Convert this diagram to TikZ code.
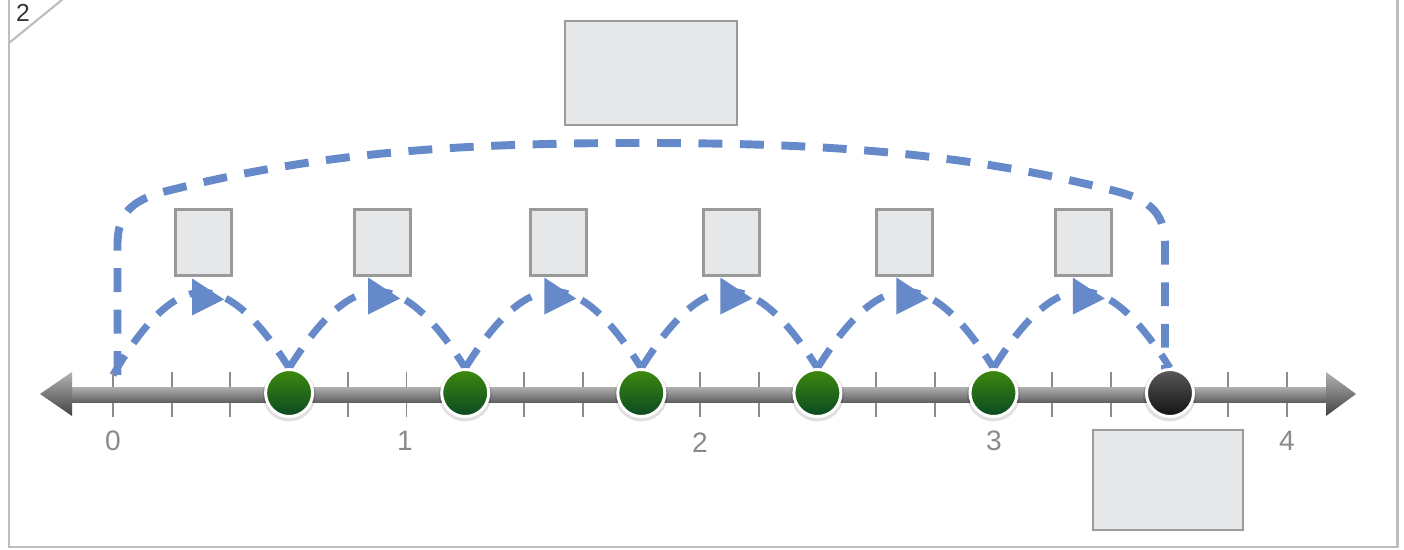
\documentclass[tikz,border=0pt]{standalone}
\usepackage{fontspec}
\setmainfont{Liberation Sans}
\usetikzlibrary{calc,backgrounds}
\definecolor{jump}{HTML}{6589C9}
\definecolor{boxfill}{HTML}{E6E7E9}
\definecolor{boxline}{HTML}{9A9A9A}
\definecolor{framec}{HTML}{BDBDBD}
\definecolor{tickc}{HTML}{8C8C8C}
\definecolor{labc}{HTML}{8A8A8A}
\definecolor{gtop}{HTML}{3E8A0E}
\definecolor{gbot}{HTML}{0A4822}
\definecolor{ktop}{HTML}{5A5A5A}
\definecolor{kbot}{HTML}{111111}
\tikzset{
  answerbox/.style={rectangle, draw=boxline, fill=boxfill, line width=1.4pt, inner sep=0pt},
  jumparc/.style={draw=jump, line width=4pt, dash pattern=on 13pt off 8.5pt},
  bigarc/.style={draw=jump, line width=4.5pt, dash pattern=on 13.6pt off 10pt},
  dotbase/.style={circle, inner sep=0pt, minimum size=0.94cm, draw=white, line width=1.7pt},
  greendot/.style={dotbase, top color=gtop, bottom color=gbot},
  blackdot/.style={dotbase, top color=ktop, bottom color=kbot},
  numlab/.style={text=labc, font=\fontsize{16}{16}\selectfont},
  tickmark/.style={draw=tickc, line width=1.1pt},
  dotshadow/.style={fill=black, opacity=0.12},
}
\begin{document}
\begin{tikzpicture}[x=0.02cm,y=-0.02cm]
\useasboundingbox (0,0) rectangle (1404,550);
% frame
\draw[framec, line width=1.7pt] (9,-5) rectangle (1397,547);
\draw[framec, line width=1.2pt] (9,43) -- (63,-1);
\node[text=black!80, font=\fontsize{14}{14}\selectfont] (pg) at (23,13) {2};
% answer boxes
\node[answerbox, minimum width=3.44cm, minimum height=2.08cm] (top) at (651,73) {};
\node[answerbox, minimum width=3cm, minimum height=2cm] (bottom) at (1168,480) {};
\foreach \x [count=\i] in {203.5,382.5,558.5,731.5,904.5,1083.5}
  \node[answerbox, minimum width=1.12cm, minimum height=1.32cm] (b\i) at (\x,242.5) {};
% ticks
\foreach \k in {0,...,20}
  \draw[tickmark] ({113+58.7*\k},372) -- ({113+58.7*\k},417);
% shaft and arrow heads
\shade[top color=black!33, bottom color=black!64] (66,388) rectangle (1332,403);
\shade[top color=black!30, bottom color=black!74] (40,394) -- (72,372) -- (72,416) -- cycle;
\shade[top color=black!30, bottom color=black!74] (1356,394) -- (1326,372) -- (1326,416) -- cycle;
% labels
\node[numlab] (l0) at (113,441) {0};
\node[numlab] (l1) at (405,441) {1};
\node[numlab] (l2) at (700,443) {2};
\node[numlab] (l3) at (994,441) {3};
\node[numlab] (l4) at (1287,441) {4};
% dots
\foreach \i in {1,...,6}
  \fill[dotshadow] ({113+176.1*\i},395) circle (26.5);
\foreach \i in {1,...,5}
  \node[greendot] (d\i) at ({113+176.1*\i},393) {};
\node[blackdot] (d6) at (1170,393) {};
\coordinate (d0) at (113,375);
\coordinate (bl) at (117.5,375);
\coordinate (br) at (1165,372);
% jumps
\begin{scope}[on background layer]
  \draw[jumparc] (d0) .. controls +(64,-109) and +(-64,-102) .. (d1.north) node[pos=0.5, coordinate] (m1) {};
  \foreach \i/\j in {1/2,2/3,3/4,4/5,5/6}
    \draw[jumparc] (d\i.north) .. controls +(64,-102) and +(-64,-102) .. (d\j.north) node[pos=0.5, coordinate] (m\j) {};
  \foreach \i in {1,...,6}
    \fill[jump] ($(m\i)+(-9,-14)$) -- ($(m\i)+(23,7)$) -- ($(m\i)+(-9,23)$) -- cycle;
  \draw[bigarc] (bl) -- (117.5,245) .. controls (117.5,210) and (135,198) .. (175,189)
     .. controls (330,150) and (480,143) .. (641,143)
     .. controls (802,143) and (952,150) .. (1107,189)
     .. controls (1147,198) and (1165,210) .. (1165,245) -- (br);
\end{scope}
\end{tikzpicture}
\end{document}
